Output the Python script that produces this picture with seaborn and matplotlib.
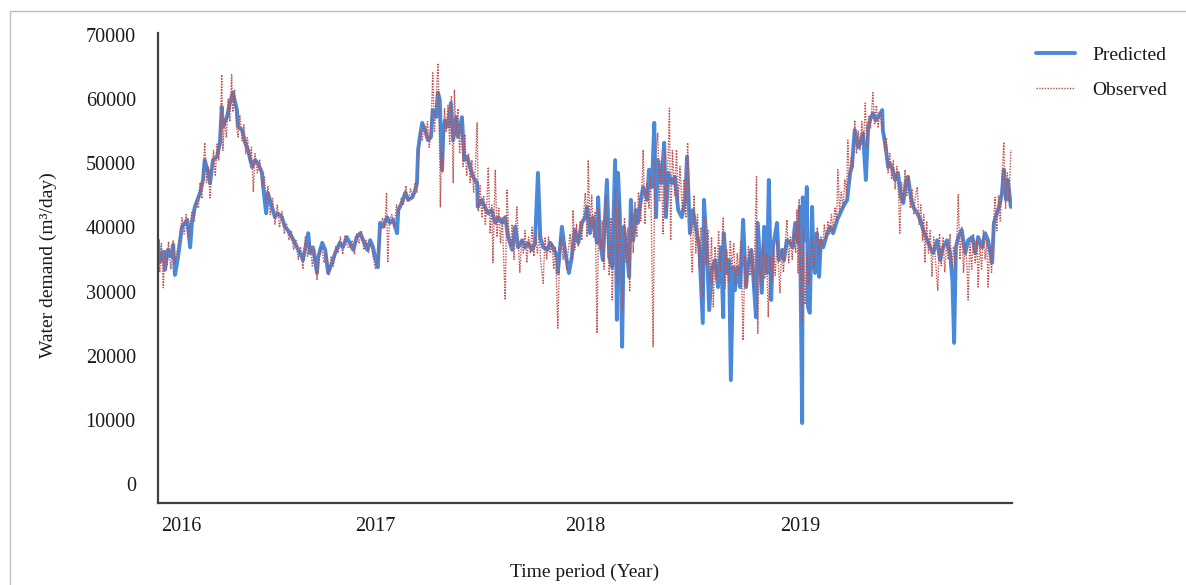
import numpy as np
import pandas as pd
import matplotlib
matplotlib.use("Agg")
import matplotlib.pyplot as plt
import seaborn as sns
from matplotlib.patches import Rectangle

# ---------------- data (days since start of 2016, water demand m3/day) ----------------
pred_day = [
    0, 3, 9, 12, 17, 22, 26, 29, 34, 41,
    50, 55, 58, 63, 72, 77, 80, 86, 89, 94,
    101, 106, 109, 111, 118, 123, 128, 135, 137, 144,
    149, 154, 161, 166, 171, 178, 180, 185, 188, 195,
    200, 205, 212, 217, 222, 229, 234, 240, 246, 248,
    257, 260, 265, 272, 274, 281, 286, 291, 298, 303,
    311, 316, 323, 328, 334, 340, 346, 351, 358, 363,
    368, 371, 376, 380, 385, 392, 397, 402, 409, 411,
    417, 423, 428, 435, 440, 443, 445, 448, 452, 457,
    462, 467, 470, 476, 479, 482, 486, 488, 491, 496,
    501, 505, 510, 513, 520, 524, 529, 534, 539, 546,
    547, 554, 559, 565, 571, 577, 582, 589, 594, 599,
    606, 611, 616, 623, 628, 633, 640, 645, 650, 654,
    659, 666, 671, 676, 683, 684, 691, 696, 703, 708,
    713, 719, 725, 731, 734, 739, 744, 751, 753, 756,
    761, 768, 772, 777, 782, 785, 787, 790, 794, 797,
    802, 806, 809, 813, 818, 821, 826, 830, 837, 840,
    845, 849, 852, 855, 861, 866, 869, 873, 879, 884,
    890, 896, 902, 905, 910, 915, 922, 926, 932, 934,
    939, 943, 948, 953, 958, 963, 967, 968, 973, 977,
    980, 984, 987, 991, 996, 1001, 1006, 1009, 1015, 1018,
    1023, 1026, 1033, 1037, 1042, 1045, 1049, 1052, 1059, 1062,
    1068, 1071, 1076, 1081, 1086, 1090, 1095, 1098, 1102, 1103,
    1107, 1110, 1112, 1115, 1119, 1121, 1124, 1127, 1131, 1134,
    1138, 1145, 1150, 1155, 1162, 1167, 1172, 1179, 1184, 1187,
    1192, 1198, 1201, 1206, 1211, 1215, 1218, 1223, 1228, 1232,
    1239, 1240, 1245, 1249, 1252, 1257, 1261, 1266, 1271, 1275,
    1280, 1283, 1288, 1292, 1299, 1304, 1309, 1316, 1321, 1326,
    1333, 1338, 1343, 1350, 1355, 1359, 1362, 1365, 1369, 1375,
    1381, 1386, 1393, 1398, 1403, 1410, 1415, 1420, 1427, 1430,
    1435, 1439, 1444, 1447, 1451, 1454, 1459,
]
pred_demand = [
    38000, 34600, 36200, 33400, 36500, 35500, 37300, 32600, 35200, 40100,
    41200, 36900, 40700, 43200, 45400, 47400, 50500, 48500, 46900, 50500,
    51000, 53200, 58800, 55700, 57200, 59400, 61000, 58300, 55700, 55200,
    53200, 52100, 49400, 50500, 50000, 48500, 46300, 42200, 45400, 43200,
    41600, 42200, 41600, 40100, 39600, 38500, 37600, 36500, 35400, 34900,
    39100, 36000, 36900, 32900, 35400, 37600, 36500, 32900, 34500, 36000,
    37600, 36900, 38500, 37600, 36500, 38500, 39100, 38000, 36500, 38000,
    36900, 35400, 33800, 40700, 40100, 41600, 40700, 41200, 39100, 42700,
    43800, 45400, 44300, 44700, 45800, 46900, 52100, 54100, 56300, 55200,
    53600, 54100, 58300, 57200, 61000, 59900, 49000, 54700, 56700, 55700,
    59400, 53600, 57200, 54100, 57200, 50500, 51000, 49400, 47900, 46900,
    43200, 44300, 43200, 42200, 42700, 40700, 41600, 40700, 41600, 38500,
    36500, 40100, 36900, 38000, 36900, 37600, 36500, 37600, 48500, 38500,
    36900, 36500, 37600, 36900, 35400, 32900, 40100, 36500, 32900, 35400,
    39600, 37600, 40700, 41600, 43200, 39100, 41600, 37600, 44700, 38000,
    34900, 47400, 35400, 33800, 50500, 25600, 48500, 42200, 21400, 40100,
    36500, 32300, 44300, 38000, 42700, 40700, 44300, 46300, 44300, 49000,
    46300, 56300, 41600, 50500, 46900, 53200, 41600, 48500, 46900, 47900,
    42700, 41600, 44300, 51000, 39100, 42700, 39100, 36900, 25100, 44300,
    36500, 27100, 33800, 34900, 30700, 36900, 26000, 39100, 32900, 34900,
    16200, 33800, 30200, 33800, 30700, 41200, 30700, 33800, 36500, 32900,
    26000, 40700, 29800, 40100, 32900, 47400, 28700, 36900, 40700, 34900,
    36500, 34900, 38000, 37600, 36900, 40700, 37600, 43200, 9500, 44700,
    38000, 46300, 27600, 26700, 43200, 36000, 32900, 39100, 32300, 38000,
    36900, 39100, 40100, 39100, 41200, 42200, 43200, 44300, 48500, 49400,
    55200, 52500, 53200, 54700, 47400, 55700, 56700, 57800, 56700, 57200,
    58300, 55200, 52500, 49400, 50000, 49000, 47400, 48500, 44700, 43800,
    47400, 47900, 44700, 43200, 42200, 41200, 39600, 38000, 36900, 36000,
    38000, 34900, 36900, 38000, 36000, 31800, 22000, 36900, 38500, 39600,
    36000, 38000, 38500, 36000, 38500, 36900, 39100, 38000, 34500, 40700,
    42200, 43200, 45400, 49000, 44300, 47400, 43200,
]

obs_day = [
    0, 3, 6, 9, 12, 15, 18, 22, 26, 29,
    33, 37, 41, 45, 48, 52, 55, 58, 62, 65,
    69, 72, 75, 78, 80, 83, 86, 89, 92, 95,
    98, 101, 104, 107, 109, 111, 114, 117, 120, 123,
    126, 128, 131, 134, 137, 140, 144, 147, 150, 153,
    157, 160, 163, 166, 170, 174, 178, 182, 185, 188,
    192, 196, 200, 204, 208, 212, 216, 220, 224, 228,
    232, 236, 240, 244, 248, 252, 256, 260, 264, 268,
    272, 276, 280, 284, 288, 292, 296, 300, 304, 308,
    312, 316, 320, 324, 328, 332, 336, 340, 344, 348,
    352, 356, 360, 364, 368, 372, 376, 380, 384, 388,
    391, 393, 396, 400, 404, 408, 412, 416, 420, 424,
    428, 432, 436, 440, 443, 446, 449, 452, 455, 458,
    461, 464, 467, 470, 473, 476, 479, 481, 483, 485,
    487, 490, 493, 496, 499, 502, 505, 507, 510, 513,
    516, 519, 522, 525, 528, 531, 534, 537, 540, 543,
    546, 548, 551, 554, 557, 560, 563, 565, 568, 571,
    573, 577, 580, 583, 586, 589, 591, 594, 597, 600,
    603, 606, 609, 611, 614, 617, 619, 622, 625, 628,
    631, 634, 637, 640, 643, 646, 649, 652, 655, 659,
    662, 665, 668, 671, 674, 677, 680, 684, 687, 690,
    693, 696, 699, 702, 705, 708, 710, 713, 716, 719,
    722, 725, 728, 731, 734, 736, 739, 742, 745, 748,
    751, 754, 757, 760, 763, 766, 769, 772, 775, 777,
    780, 783, 786, 789, 792, 795, 798, 801, 804, 807,
    810, 813, 816, 819, 822, 826, 830, 833, 836, 840,
    843, 847, 850, 855, 858, 861, 864, 867, 870, 875,
    877, 880, 884, 887, 890, 893, 897, 900, 903, 906,
    910, 914, 917, 920, 923, 926, 929, 932, 935, 938,
    941, 944, 947, 950, 953, 956, 959, 962, 967, 970,
    973, 976, 979, 982, 985, 988, 991, 994, 997, 1001,
    1004, 1007, 1010, 1013, 1016, 1019, 1024, 1026, 1029, 1032,
    1035, 1038, 1041, 1044, 1047, 1050, 1053, 1056, 1059, 1064,
    1067, 1070, 1073, 1076, 1079, 1082, 1085, 1088, 1091, 1093,
    1095, 1097, 1100, 1102, 1104, 1107, 1110, 1113, 1116, 1119,
    1122, 1125, 1128, 1131, 1134, 1137, 1140, 1143, 1146, 1149,
    1152, 1155, 1158, 1161, 1163, 1166, 1169, 1172, 1175, 1178,
    1180, 1183, 1186, 1189, 1192, 1195, 1198, 1201, 1204, 1207,
    1210, 1213, 1216, 1219, 1223, 1226, 1229, 1232, 1235, 1238,
    1240, 1243, 1246, 1249, 1252, 1255, 1258, 1261, 1264, 1267,
    1269, 1272, 1275, 1278, 1281, 1284, 1287, 1290, 1293, 1296,
    1299, 1302, 1305, 1308, 1310, 1312, 1315, 1318, 1321, 1324,
    1327, 1330, 1334, 1337, 1340, 1343, 1346, 1349, 1352, 1355,
    1358, 1361, 1364, 1367, 1369, 1372, 1375, 1378, 1381, 1384,
    1386, 1389, 1392, 1395, 1398, 1401, 1403, 1406, 1409, 1412,
    1415, 1418, 1420, 1423, 1426, 1429, 1432, 1435, 1438, 1441,
    1444, 1447, 1450, 1453, 1456, 1459,
]
obs_demand = [
    36000, 33000, 37500, 30600, 36500, 34000, 37800, 33500, 38000, 34500,
    36500, 38500, 41500, 39000, 42000, 38500, 40500, 42500, 41000, 44000,
    43000, 47000, 44500, 50000, 53200, 47000, 49500, 44600, 49000, 52000,
    48000, 53000, 50500, 56000, 63800, 52000, 57000, 54000, 60000, 56500,
    63800, 58000, 61500, 56000, 54100, 57500, 53500, 56000, 51500, 54000,
    50000, 52500, 45500, 51500, 48500, 50500, 46500, 48000, 44000, 46500,
    42000, 44500, 40500, 43500, 40000, 42500, 39000, 40500, 38000, 39500,
    36500, 38000, 35000, 37000, 33500, 38500, 35500, 37500, 34000, 36500,
    31800, 35500, 37000, 34500, 36000, 32500, 35500, 34000, 37000, 36000,
    38500, 35800, 38800, 37000, 36800, 38000, 35800, 39000, 37500, 39500,
    36500, 38000, 36000, 37500, 35500, 33500, 35000, 39000, 41500, 40000,
    45400, 34500, 41000, 42000, 40000, 43500, 42000, 44500, 43500, 46500,
    44000, 46000, 44500, 47000, 45500, 52000, 55000, 53500, 56000, 54000,
    56500, 52500, 55000, 64100, 55000, 60500, 65600, 58000, 43200, 52000,
    48500, 58500, 55000, 59000, 53000, 60500, 46900, 61400, 54500, 58500,
    51500, 56000, 49500, 54500, 48000, 51500, 47000, 50500, 45500, 49500,
    56300, 42500, 46500, 41500, 45000, 40500, 44500, 49400, 39000, 43500,
    34500, 49000, 38500, 43000, 37500, 41500, 36000, 28700, 45800, 39500,
    37000, 40500, 35000, 38500, 43200, 36500, 33000, 38000, 36000, 39500,
    34500, 38500, 36000, 40000, 35500, 38500, 36000, 39000, 34500, 31300,
    38500, 35000, 38500, 36000, 37500, 33500, 37000, 24300, 36000, 38500,
    35000, 37500, 33500, 36500, 39000, 35000, 42700, 36500, 40500, 37000,
    41000, 38000, 42000, 45400, 38500, 50500, 40000, 45000, 38500, 42500,
    23500, 43000, 36500, 41000, 33500, 45000, 38000, 32500, 41500, 28700,
    39000, 46000, 31000, 44000, 34500, 27000, 41500, 34500, 40000, 30000,
    42500, 36000, 44000, 38500, 45500, 41000, 52100, 40500, 47000, 43000,
    48000, 21400, 50000, 54700, 44000, 50500, 39000, 52000, 43000, 58600,
    38000, 52000, 45000, 52100, 44000, 49500, 42500, 47500, 41500, 53200,
    41000, 32900, 45000, 36000, 42000, 33500, 40000, 29000, 41500, 34000,
    39500, 31500, 38500, 27600, 37000, 32000, 39500, 33000, 41600, 30500,
    36500, 31500, 38000, 33500, 37500, 31000, 36000, 32500, 38000, 22400,
    35500, 31000, 37000, 32500, 36500, 30500, 47900, 23500, 36000, 31000,
    37500, 32000, 36000, 26000, 35500, 31500, 37000, 32500, 38000, 29800,
    36500, 33000, 37500, 41200, 34500, 38500, 35000, 39500, 36000, 42700,
    32900, 44300, 30000, 25100, 40000, 28000, 36000, 31000, 35000, 38500,
    33500, 37000, 40000, 35500, 38500, 37000, 40500, 38000, 41000, 39000,
    42000, 39500, 43000, 41000, 49000, 42500, 45500, 43000, 47500, 45000,
    53600, 47000, 51000, 49500, 56700, 51500, 55000, 52000, 56500, 53000,
    59400, 52500, 57500, 55500, 61000, 56000, 59000, 55500, 58000, 56000,
    56300, 52000, 54000, 48500, 51500, 47500, 50500, 46000, 49500, 45000,
    39100, 47000, 44000, 49000, 45000, 48000, 43000, 46000, 42000, 45000,
    46300, 40500, 43500, 38000, 42000, 34500, 41000, 36000, 39500, 32300,
    38500, 35000, 30200, 39000, 34000, 38500, 33000, 37500, 35000, 39000,
    33500, 37000, 34000, 38500, 45100, 35000, 40000, 33000, 37500, 34000,
    28700, 38000, 33500, 39000, 34500, 38000, 30700, 37500, 33500, 39500,
    35000, 38000, 30700, 37000, 33000, 40000, 44700, 39500, 45000, 41000,
    48000, 53300, 43000, 48500, 44000, 52100,
]

year_labels = ["2016", "2017", "2018", "2019"]
y_ticks = [0, 10000, 20000, 30000, 40000, 50000, 60000, 70000]

assert len(pred_day) == len(pred_demand), (len(pred_day), len(pred_demand))
assert len(obs_day) == len(obs_demand), (len(obs_day), len(obs_demand))

pred_df = pd.DataFrame({"year": 2016 + np.array(pred_day) / 365.25, "demand": pred_demand})
obs_df = pd.DataFrame({"year": 2016 + np.array(obs_day) / 365.25, "demand": obs_demand})

# ---------------- style ----------------
sns.set_theme(style="white")
plt.rcParams["font.family"] = ["Liberation Serif", "DejaVu Serif"]
text_color = "#1a1a1a"

W, H = 1186, 585
fig = plt.figure(figsize=(W / 100, H / 100), dpi=100)
ax = fig.add_axes([158 / W, 1 - 503 / H, 854 / W, 470 / H])

sns.lineplot(data=pred_df, x="year", y="demand", ax=ax, color="#4A88DA",
             linewidth=2.8, estimator=None, label="Predicted")
sns.lineplot(data=obs_df, x="year", y="demand", ax=ax, color="#C0504D",
             linewidth=1.0, linestyle=(0, (1, 1)), estimator=None, label="Observed")

ax.set_xlim(2016.0, 2020.0)
ax.set_ylim(-2960, 70310)

ax.set_yticks(y_ticks)
ax.set_yticklabels([str(v) for v in y_ticks])
ax.set_xticks([2016.11, 2017.02, 2018.0, 2019.01])
ax.set_xticklabels(year_labels)
ax.tick_params(axis="both", length=0, labelsize=14.5, colors=text_color)
ax.tick_params(axis="y", pad=16)
ax.tick_params(axis="x", pad=10)

for s in ["top", "right"]:
    ax.spines[s].set_visible(False)
for s in ["left", "bottom"]:
    ax.spines[s].set_color("#404040")
    ax.spines[s].set_linewidth(1.6)

ax.set_xlabel("Time period (Year)", fontsize=14, color=text_color)
ax.set_ylabel("Water demand (m³/day)", fontsize=14, color=text_color)
ax.xaxis.set_label_coords(0.5, (503 - 572) / 470)
ax.xaxis.label.set_va("center")
ax.yaxis.set_label_coords((48 - 158) / 854, (503 - 265) / 470)
ax.yaxis.label.set_va("center")

ax.legend(loc="upper left", bbox_to_anchor=(1036 / W, 1 - 46 / H),
          bbox_transform=fig.transFigure, frameon=False, fontsize=14,
          handlelength=2.0, handletextpad=0.9, labelspacing=0.92,
          borderpad=0, borderaxespad=0, labelcolor=text_color)

fig.add_artist(Rectangle((10 / W, -0.1), 1.2, 1 - 11 / H + 0.1,
                         transform=fig.transFigure, fill=False,
                         edgecolor="#BFBFBF", linewidth=1.0))

fig.savefig("out.png", dpi=100)
